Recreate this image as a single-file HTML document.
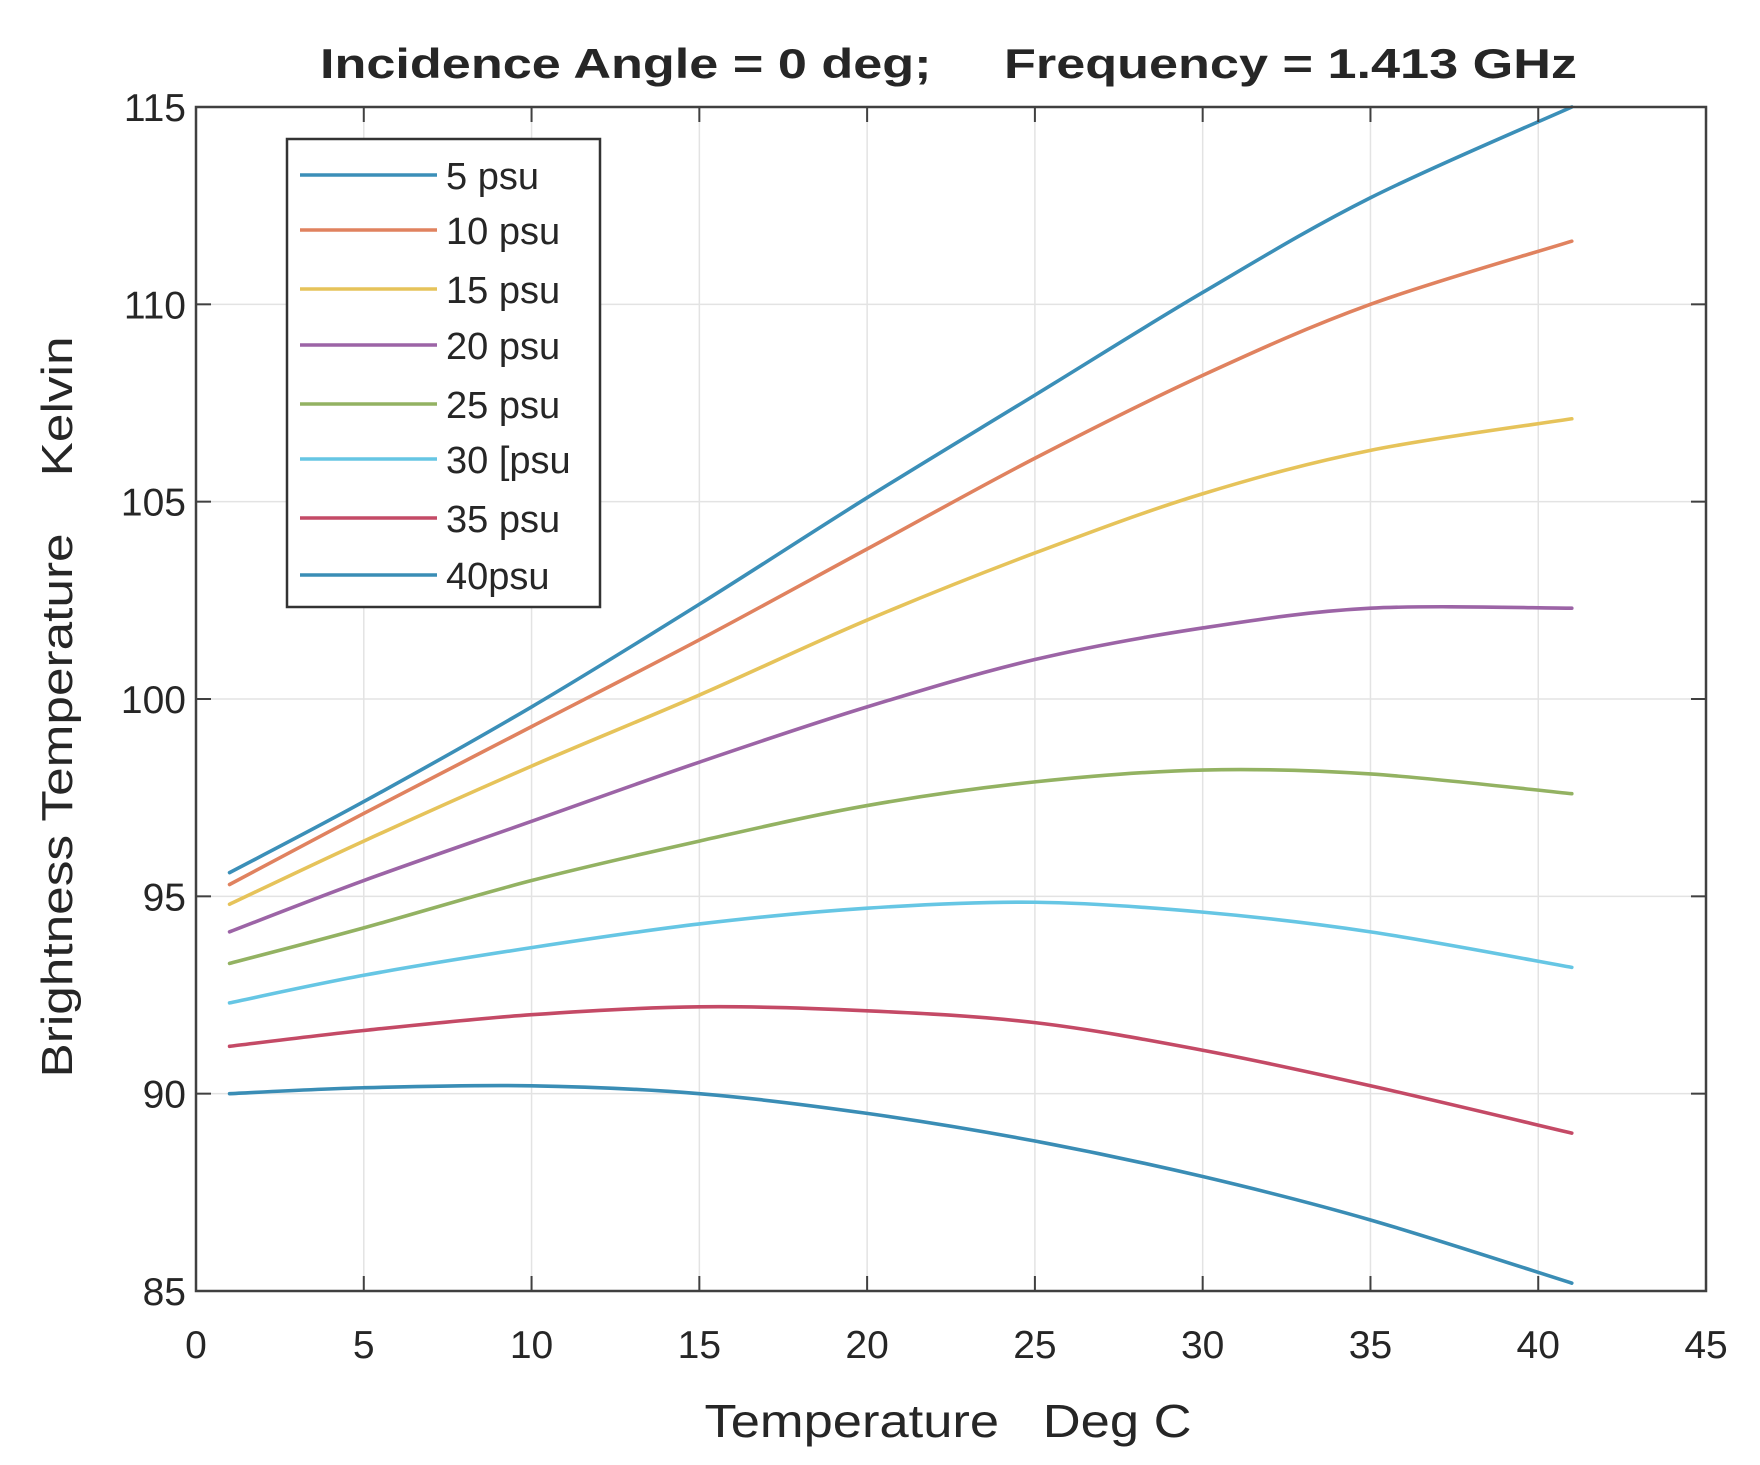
<!DOCTYPE html>
<html><head><meta charset="utf-8"><style>
html,body{margin:0;padding:0;background:#fff}
svg{display:block}
text{font-family:"Liberation Sans",Arial,sans-serif;fill:#262626}
</style></head><body>
<svg id="s" width="1760" height="1465" viewBox="0 0 1760 1465" xmlns="http://www.w3.org/2000/svg">
<rect width="1760" height="1465" fill="#fff"/>
<g id="grid" stroke="#e3e3e3" stroke-width="1.5"></g>
<g id="curves" fill="none" stroke-width="3.6" stroke-linejoin="round" stroke-linecap="round"></g>
<rect x="196" y="107" width="1510" height="1184" fill="none" stroke="#404040" stroke-width="2.5"/>
<g id="ticks" stroke="#404040" stroke-width="2"></g>
<g id="labels" font-size="39" fill="#333"></g>
<text x="320" y="78" font-size="42" font-weight="bold" fill="#111" textLength="1257" lengthAdjust="spacingAndGlyphs" xml:space="preserve">Incidence Angle = 0 deg;     Frequency = 1.413 GHz</text>
<text x="948" y="1437" font-size="46" text-anchor="middle" fill="#333" textLength="487" lengthAdjust="spacingAndGlyphs" xml:space="preserve">Temperature   Deg C</text>
<text transform="translate(72,707) rotate(-90)" font-size="44" text-anchor="middle" fill="#333" textLength="741" lengthAdjust="spacingAndGlyphs" xml:space="preserve">Brightness Temperature    Kelvin</text>
<rect x="287" y="139" width="313" height="468" fill="#fff" stroke="#333" stroke-width="2.5"/>
<g id="leg" font-size="38"></g>
</svg>
<script>
var NS="http://www.w3.org/2000/svg";
function X(t){return 196+33.556*t}
function Y(v){return 1291-39.467*(v-85)}
function el(p,n,a,txt){var e=document.createElementNS(NS,n);for(var k in a)e.setAttribute(k,a[k]);if(txt!=null)e.textContent=txt;document.getElementById(p).appendChild(e);return e}
for(var t=5;t<45;t+=5){el('grid','line',{x1:X(t),y1:107,x2:X(t),y2:1291});}
for(var v=90;v<115;v+=5){el('grid','line',{x1:196,y1:Y(v),x2:1706,y2:Y(v)});}
for(var t=0;t<=45;t+=5){el('ticks','line',{x1:X(t),y1:1291,x2:X(t),y2:1276});el('ticks','line',{x1:X(t),y1:107,x2:X(t),y2:122});
 el('labels','text',{x:X(t),y:1358,'text-anchor':'middle'},t);}
for(var v=85;v<=115;v+=5){el('ticks','line',{x1:196,y1:Y(v),x2:211,y2:Y(v)});el('ticks','line',{x1:1706,y1:Y(v),x2:1691,y2:Y(v)});
 el('labels','text',{x:186,y:Y(v)+14,'text-anchor':'end'},v);}
var xs=[1,5,10,15,20,25,30,35,41];
var S=[
["#3b8fb8",[95.6,97.4,99.8,102.4,105.1,107.7,110.3,112.7,115],"5 psu"],
["#e0825f",[95.3,97.1,99.3,101.5,103.8,106.1,108.2,110.0,111.6],"10 psu"],
["#e6c35a",[94.8,96.4,98.3,100.1,102.0,103.7,105.2,106.3,107.1],"15 psu"],
["#9c64a6",[94.1,95.4,96.9,98.4,99.8,101.0,101.8,102.3,102.3],"20 psu"],
["#93b262",[93.3,94.2,95.4,96.4,97.3,97.9,98.2,98.1,97.6],"25 psu"],
["#66c6e4",[92.3,93.0,93.7,94.3,94.7,94.85,94.6,94.1,93.2],"30 [psu"],
["#c44a66",[91.2,91.6,92.0,92.2,92.1,91.8,91.1,90.2,89.0],"35 psu"],
["#3a8db5",[90.0,90.15,90.2,90.0,89.5,88.8,87.9,86.8,85.2],"40psu"]];
var ly=[175,230,289,345,404,459,518,575];
S.forEach(function(s,i){
 var p=xs.map(function(x,j){return [X(x),Y(s[1][j])]});
 var d="M"+p[0][0]+","+p[0][1];
 for(var j=0;j<p.length-1;j++){
  var p0=p[j-1]||p[j],p1=p[j],p2=p[j+1],p3=p[j+2]||p[j+1];
  var c1=[p1[0]+(p2[0]-p0[0])/6,p1[1]+(p2[1]-p0[1])/6],c2=[p2[0]-(p3[0]-p1[0])/6,p2[1]-(p3[1]-p1[1])/6];
  d+=" C"+c1+" "+c2+" "+p2;
 }
 el('curves','path',{d:d,stroke:s[0]});
 el('leg','line',{x1:300,y1:ly[i],x2:437,y2:ly[i],stroke:s[0],'stroke-width':3.6});
 el('leg','text',{x:446,y:ly[i]+14},s[2]);
});
</script>
</body></html>
